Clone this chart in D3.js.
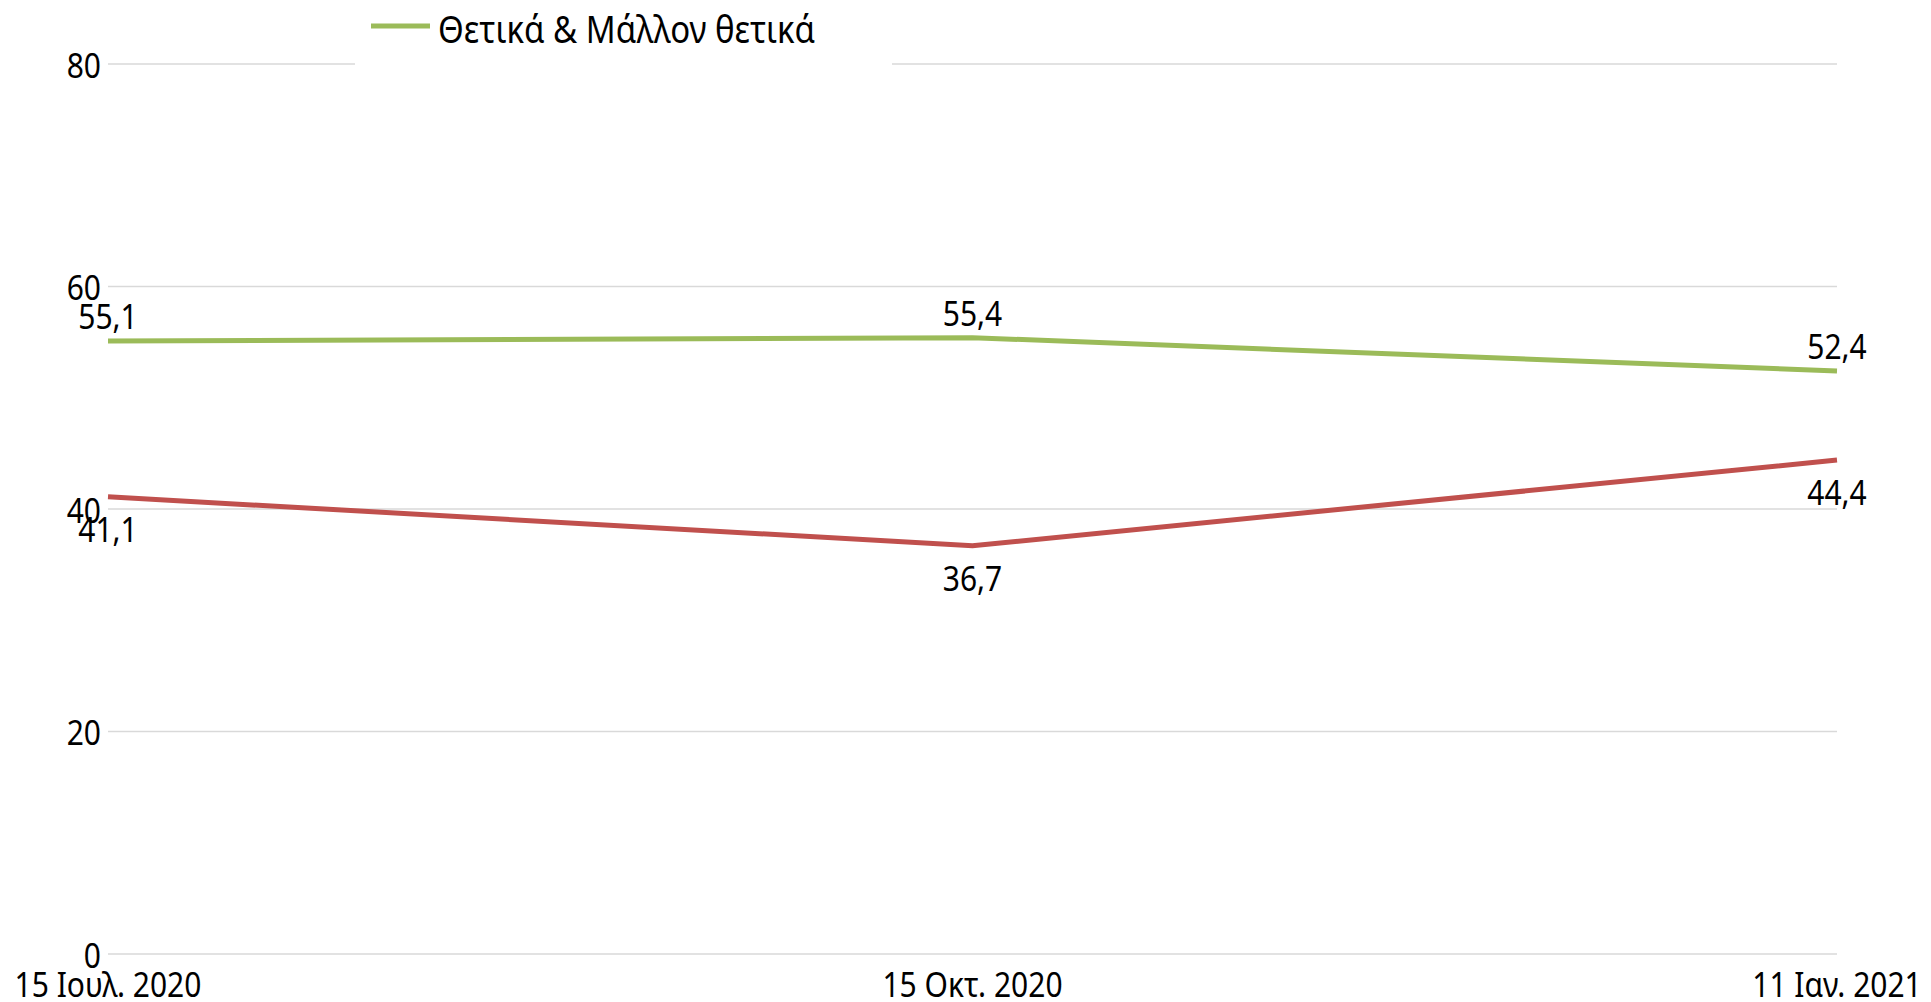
<!DOCTYPE html>
<html>
<head>
<meta charset="utf-8">
<script src="https://cdn.jsdelivr.net/npm/d3@7"></script>
<style>
  body { margin: 0; background: #fff; }
  text { font-family: "Noto Sans", "Open Sans", sans-serif; fill: #000; }
</style>
</head>
<body>
<svg id="chart" width="1931" height="1002"></svg>
<script>
const categories = ["15 Ιουλ. 2020", "15 Οκτ. 2020", "11 Ιαν. 2021"];
const positiveValues = [55.1, 55.4, 52.4];
const negativeValues = [41.1, 36.7, 44.4];
const yTicks = [0, 20, 40, 60, 80];
const legendLabel = "Θετικά & Μάλλον θετικά";

const FONT = 30, STRETCH = 1.15;

const svg = d3.select('#chart');
const x = d3.scalePoint().domain(categories).range([108, 1837]);
const y = d3.scaleLinear().domain([0, 80]).range([954, 64]);
const fmt = v => d3.format('.1f')(v).replace('.', ',');

// stretched text helper (reference text is taller than it is wide)
function label(g, tx, ty, str, anchor, size) {
    return g.append('text')
        .attr('transform', `translate(${tx},${ty}) scale(1,${STRETCH})`)
        .attr('text-anchor', anchor || 'middle')
        .attr('dominant-baseline', 'central')
        .style('font-size', (size || FONT) + 'px')
        .text(str);
}

// gridlines
const grid = svg.append('g');
grid.selectAll('line').data(yTicks).join('line')
    .attr('x1', x.range()[0]).attr('x2', x.range()[1])
    .attr('y1', d => y(d)).attr('y2', d => y(d))
    .attr('stroke', '#d9d9d9').attr('stroke-width', 1.5);

// y tick labels
const yl = svg.append('g');
yTicks.forEach(t => label(yl, 101, y(t), t, 'end'));

// x labels
const xl = svg.append('g');
categories.forEach(c => label(xl, x(c), 983, c));

// lines
const line = d3.line().x((d, i) => x(categories[i])).y(d => y(d));
const series = [
    {values: positiveValues, color: '#9bbb59', dy: -26},
    {values: negativeValues, color: '#c0504d', dy: 31}
];
series.forEach(s => {
    svg.append('path')
        .datum(s.values)
        .attr('d', line)
        .attr('fill', 'none')
        .attr('stroke', s.color)
        .attr('stroke-width', 5);
    const lg = svg.append('g');
    s.values.forEach((v, i) => label(lg, x(categories[i]), y(v) + s.dy, fmt(v)));
});

// legend (white box covers top gridline)
const legend = svg.append('g');
legend.append('rect')
    .attr('x', 355).attr('y', 0).attr('width', 537).attr('height', 80)
    .attr('fill', '#fff');
legend.append('line')
    .attr('x1', 371).attr('x2', 430).attr('y1', 26).attr('y2', 26)
    .attr('stroke', '#9bbb59').attr('stroke-width', 5);
label(legend, 438, 28, legendLabel, 'start', 33);
</script>
</body>
</html>
